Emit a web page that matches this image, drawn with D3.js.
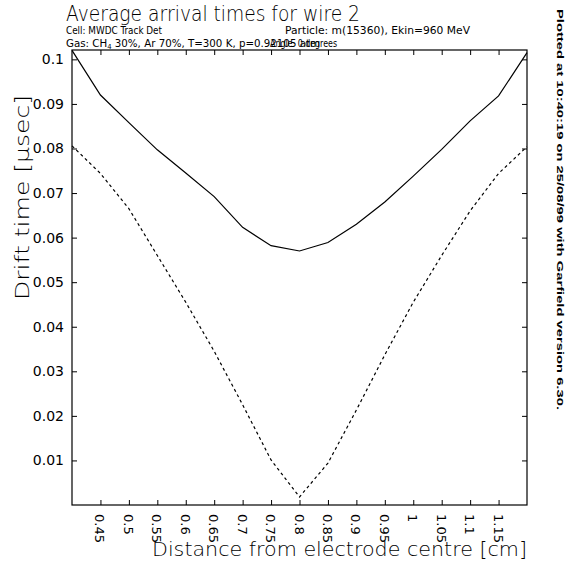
<!DOCTYPE html>
<html>
<head>
<meta charset="utf-8">
<script src="https://cdn.jsdelivr.net/npm/d3@7"></script>
<style>
  body { margin: 0; background: #fff; }
  text { font-family: "DejaVu Sans", sans-serif; fill: #000; }
</style>
</head>
<body>
<div id="chart"></div>
<script>
(function () {
   // distances from electrode centre [cm]
   const distance = [0.4, 0.45, 0.5, 0.55, 0.6, 0.65, 0.7, 0.75, 0.8,
                     0.85, 0.9, 0.95, 1.0, 1.05, 1.1, 1.15, 1.2];
   // average arrival time (solid) and fastest arrival (dashed), usec
   const meanTime = [0.1020, 0.0920, 0.0858, 0.0797, 0.0745, 0.0692, 0.0623, 0.0582, 0.0570,
                     0.0589, 0.0630, 0.0680, 0.0738, 0.0798, 0.0862, 0.0918, 0.1015];
   const minTime = [0.0806, 0.0744, 0.0665, 0.0560, 0.0455, 0.0345, 0.0225, 0.0101, 0.0018,
                    0.0094, 0.0213, 0.0337, 0.0455, 0.0560, 0.0660, 0.0744, 0.0804];

   const xTicks = [0.45, 0.5, 0.55, 0.6, 0.65, 0.7, 0.75, 0.8, 0.85, 0.9, 0.95, 1, 1.05, 1.1, 1.15];
   const yTicks = [0.01, 0.02, 0.03, 0.04, 0.05, 0.06, 0.07, 0.08, 0.09, 0.1];

   const width = 571, height = 563;
   const margin = {left: 72, top: 50, right: 44, bottom: 58};

   const svg = d3.select('#chart').append('svg')
      .attr('width', width)
      .attr('height', height);

   const x = d3.scaleLinear().domain([0.4, 1.2]).range([margin.left, width - margin.right]);
   const y = d3.scaleLinear().domain([0, 0.1021]).range([height - margin.bottom, margin.top]);

   // frame
   svg.append('rect')
      .attr('x', x(0.4)).attr('y', y(0.1021))
      .attr('width', x(1.2) - x(0.4)).attr('height', y(0) - y(0.1021))
      .attr('fill', 'none').attr('stroke', '#000').attr('stroke-width', 1.2);

   // axes, ticks pointing inwards
   const fmt = d => String(+d.toFixed(2));
   svg.append('g')
      .attr('transform', `translate(0,${y(0)})`)
      .call(d3.axisTop(x).tickValues(xTicks).tickSize(5).tickFormat(''))
      .call(g => g.select('.domain').remove());
   svg.append('g')
      .attr('transform', `translate(0,${y(0.1021)})`)
      .call(d3.axisBottom(x).tickValues(xTicks).tickSize(5).tickFormat(''))
      .call(g => g.select('.domain').remove());
   svg.append('g')
      .attr('transform', `translate(${x(0.4)},0)`)
      .call(d3.axisRight(y).tickValues(yTicks).tickSize(5).tickFormat(''))
      .call(g => g.select('.domain').remove());
   svg.append('g')
      .attr('transform', `translate(${x(1.2)},0)`)
      .call(d3.axisLeft(y).tickValues(yTicks).tickSize(5).tickFormat(''))
      .call(g => g.select('.domain').remove());

   // tick labels
   svg.append('g').selectAll('text')
      .data(yTicks)
      .join('text')
      .attr('x', x(0.4) - 8)
      .attr('y', d => y(d) + 5)
      .attr('text-anchor', 'end')
      .style('font-size', '14px')
      .text(fmt);

   svg.append('g').selectAll('text')
      .data(xTicks)
      .join('text')
      .attr('transform', d => `translate(${x(d) - 5},${y(0) + 9}) rotate(90)`)
      .style('font-size', '13px')
      .text(fmt);

   // curves
   const line = d3.line().x(d => x(d[0])).y(d => y(d[1]));
   svg.append('path')
      .datum(d3.zip(distance, meanTime))
      .attr('d', line)
      .attr('fill', 'none').attr('stroke', '#000').attr('stroke-width', 1.2);
   svg.append('path')
      .datum(d3.zip(distance, minTime))
      .attr('d', line)
      .attr('fill', 'none').attr('stroke', '#000').attr('stroke-width', 1.2)
      .attr('stroke-dasharray', '3,3');

   // helper: squeeze a text to a given length
   function fit(sel, len) {
      return sel.attr('textLength', len).attr('lengthAdjust', 'spacingAndGlyphs');
   }

   // titles
   fit(svg.append('text')
      .attr('x', 66).attr('y', 21)
      .style('font-size', '22px').style('font-weight', 200)
      .text('Average arrival times for wire 2'), 294);
   fit(svg.append('text')
      .attr('x', 66).attr('y', 34)
      .style('font-size', '10.5px')
      .text('Cell: MWDC Track Det'), 96);
   fit(svg.append('text')
      .attr('x', 285).attr('y', 34)
      .style('font-size', '10.5px')
      .text('Particle: m(15360), Ekin=960 MeV'), 185);
   const gas = svg.append('text')
      .attr('x', 66).attr('y', 47)
      .style('font-size', '10.5px');
   gas.append('tspan').text('Gas: CH');
   gas.append('tspan').attr('dy', 2).style('font-size', '7px').text('4');
   gas.append('tspan').attr('dy', -2).text(' 30%, Ar 70%, T=300 K, p=0.92105 atm');
   fit(gas, 254);
   fit(svg.append('text')
      .attr('x', 270).attr('y', 47)
      .style('font-size', '10.5px')
      .text('Angle: 0 degrees'), 67);

   // axis titles
   fit(svg.append('text')
      .attr('x', 152).attr('y', 556)
      .style('font-size', '20px').style('font-weight', 200)
      .text('Distance from electrode centre [cm]'), 375);
   fit(svg.append('text')
      .attr('transform', `translate(29,300) rotate(-90)`)
      .style('font-size', '20px').style('font-weight', 200)
      .text('Drift time [\u03bcsec]'), 205);

   // plot stamp
   fit(svg.append('text')
      .attr('transform', 'translate(557,9) rotate(90)')
      .style('font-family', '"Liberation Sans", sans-serif')
      .style('font-size', '9px').style('font-weight', 'bold')
      .text('Plotted at 10:40:19 on 25/08/99 with Garfield version 6.30.'), 401);
})();
</script>
</body>
</html>
